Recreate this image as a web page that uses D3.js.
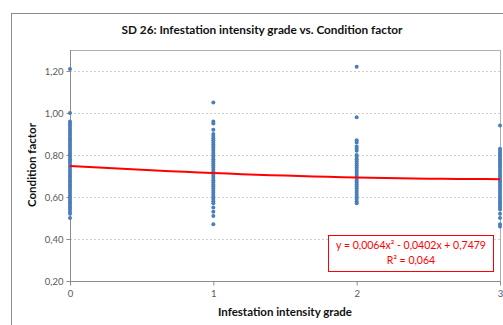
<!DOCTYPE html>
<html><head><meta charset="utf-8">
<script src="https://cdn.jsdelivr.net/npm/d3@7"></script>
<style>
body{margin:0;background:#fff;}
svg{display:block;font-family:Lato,"Open Sans",sans-serif;}
</style></head><body>
<svg id="c" width="503" height="325"></svg>
<script>
const title = "SD 26: Infestation intensity grade vs. Condition factor";
const xTitle = "Infestation intensity grade";
const yTitle = "Condition factor";
const xTicks = [0, 1, 2, 3];
const yTicks = [0.20, 0.40, 0.60, 0.80, 1.00, 1.20];
const grade0 = [1.21,1.00,0.96,0.95,0.94,0.93,0.92,0.91,0.90,0.89,0.88,0.87,0.86,0.85,0.84,0.83,0.82,0.81,0.80,0.79,0.78,0.77,0.76,0.75,0.74,0.73,0.72,0.71,0.70,0.69,0.68,0.67,0.66,0.65,0.64,0.63,0.62,0.61,0.60,0.59,0.58,0.57,0.56,0.55,0.54,0.53,0.52,0.50];
const grade1 = [1.05,0.96,0.95,0.92,0.90,0.89,0.88,0.87,0.86,0.85,0.84,0.83,0.82,0.81,0.80,0.79,0.78,0.77,0.76,0.75,0.74,0.73,0.72,0.71,0.70,0.69,0.68,0.67,0.66,0.65,0.64,0.63,0.62,0.61,0.60,0.59,0.58,0.57,0.55,0.53,0.51,0.47];
const grade2 = [1.22,0.98,0.87,0.86,0.84,0.83,0.82,0.80,0.79,0.78,0.77,0.76,0.75,0.74,0.73,0.72,0.71,0.70,0.69,0.68,0.67,0.66,0.65,0.64,0.63,0.62,0.61,0.60,0.59,0.58,0.57];
const grade3 = [0.94,0.83,0.82,0.81,0.80,0.79,0.78,0.77,0.76,0.75,0.74,0.73,0.72,0.71,0.70,0.69,0.68,0.67,0.66,0.65,0.64,0.63,0.62,0.61,0.60,0.59,0.58,0.57,0.56,0.55,0.54,0.52,0.50,0.47,0.46];
const trendCoef = [0.0064, -0.0402, 0.7479];
const eqLines = ["y = 0,0064x² - 0,0402x + 0,7479", "R² = 0,064"];

const svg = d3.select("#c");
const L = 70, R = 500, T = 50, B = 281;
const x = d3.scaleLinear().domain([0, 3]).range([L, R]);
const y = d3.scaleLinear().domain([0.2, 1.3]).range([B, T]);
const fmt = d => d3.format(".2f")(d).replace(".", ",");

svg.append("rect").attr("x", 11.5).attr("y", 13.5).attr("width", 520).attr("height", 340)
  .attr("fill", "#fff").attr("stroke", "#8c8c8c").attr("stroke-width", 1);

svg.append("text").attr("x", 262).attr("y", 34).attr("text-anchor", "middle")
  .attr("font-size", 11.8).attr("font-weight", "bold").attr("fill", "#111").text(title);

svg.append("rect").attr("x", L + 0.5).attr("y", T + 0.5).attr("width", R - L).attr("height", B - T)
  .attr("fill", "none").attr("stroke", "#b0b0b0");

svg.append("g").selectAll("line").data(yTicks.filter(v => v > 0.2)).join("line")
  .attr("x1", L).attr("x2", R).attr("y1", d => Math.round(y(d)) + 0.5).attr("y2", d => Math.round(y(d)) + 0.5)
  .attr("stroke", "#cfcfcf").attr("stroke-dasharray", "2,2");

const ya = svg.append("g").attr("transform", `translate(${L + 0.5},0)`)
  .call(d3.axisLeft(y).tickValues(yTicks).tickFormat(fmt).tickSize(4).tickPadding(3));
ya.select(".domain").attr("stroke", "#8c8c8c").attr("d", `M0,${T}V${B}`);
ya.selectAll(".tick line").attr("stroke", "#8c8c8c");
ya.selectAll("text").attr("font-size", 9.5).attr("fill", "#595959").attr("font-family", "Lato, sans-serif");

const xa = svg.append("g").attr("transform", `translate(0,${B + 0.5})`)
  .call(d3.axisBottom(x).tickValues(xTicks).tickFormat(d3.format("d")).tickSize(4).tickPadding(5));
xa.select(".domain").attr("stroke", "#8c8c8c").attr("d", `M${L},0H${R}`);
xa.selectAll(".tick line").attr("stroke", "#8c8c8c");
xa.selectAll("text").attr("font-size", 9.5).attr("fill", "#595959").attr("font-family", "Lato, sans-serif");

svg.append("text").attr("x", 285).attr("y", 316).attr("text-anchor", "middle")
  .attr("font-size", 11.5).attr("font-weight", "bold").attr("fill", "#111").text(xTitle);
svg.append("text").attr("transform", "translate(36,165) rotate(-90)").attr("text-anchor", "middle")
  .attr("font-size", 11.5).attr("font-weight", "bold").attr("fill", "#111").text(yTitle);

const pts = [];
[grade0, grade1, grade2, grade3].forEach((arr, i) => arr.forEach(v => pts.push([xTicks[i], v])));
svg.append("g").selectAll("circle").data(pts).join("circle")
  .attr("cx", d => x(d[0])).attr("cy", d => y(d[1])).attr("r", 2)
  .attr("fill", "#4a7ebb");

const poly = t => trendCoef[0] * t * t + trendCoef[1] * t + trendCoef[2];
const tx = d3.range(0, 3.0001, 0.1);
svg.append("path").datum(tx)
  .attr("d", d3.line().x(t => x(t)).y(t => y(poly(t))))
  .attr("fill", "none").attr("stroke", "#ff0000").attr("stroke-width", 2);

svg.append("rect").attr("x", 328.5).attr("y", 235.5).attr("width", 165).attr("height", 36)
  .attr("fill", "#fff").attr("stroke", "#ff0000").attr("stroke-width", 1);
svg.append("g").selectAll("text").data(eqLines).join("text")
  .attr("x", 411).attr("y", (d, i) => 249 + i * 15).attr("text-anchor", "middle")
  .attr("font-size", 10.5).attr("fill", "#ff0000").text(d => d);
</script>
</body></html>
